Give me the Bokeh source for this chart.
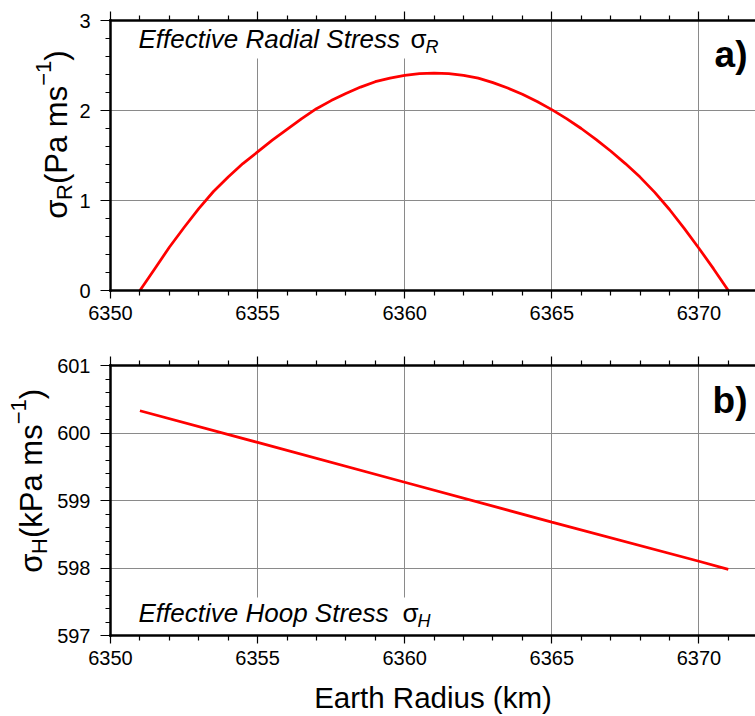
import math
from bokeh.plotting import figure
from bokeh.models import Range1d, LinearAxis, FixedTicker, Label
from bokeh.layouts import column, row
from bokeh.embed import file_html
from bokeh.resources import INLINE

# ---------------- data ----------------
RADIUS_A = [6351.0, 6351.5, 6352.0, 6352.5, 6353.0, 6353.5, 6354.0, 6354.5,
            6355.0, 6355.5, 6356.0, 6356.5, 6357.0, 6357.5, 6358.0, 6358.5,
            6359.0, 6359.5, 6360.0, 6360.5, 6361.0, 6361.5, 6362.0, 6362.5,
            6363.0, 6363.5, 6364.0, 6364.5, 6365.0, 6365.5, 6366.0, 6366.5,
            6367.0, 6367.5, 6368.0, 6368.5, 6369.0, 6369.5, 6370.0, 6370.5,
            6371.0]
SIGMA_R = [0.00, 0.24, 0.48, 0.70, 0.91, 1.10, 1.26, 1.41,
           1.54, 1.67, 1.79, 1.91, 2.02, 2.11, 2.19, 2.26,
           2.32, 2.36, 2.39, 2.41, 2.415, 2.41, 2.39, 2.36,
           2.31, 2.25, 2.18, 2.10, 2.01, 1.91, 1.80, 1.68,
           1.55, 1.41, 1.26, 1.09, 0.90, 0.69, 0.47, 0.24,
           0.00]

RADIUS_B = [6351.0, 6355.0, 6360.0, 6365.0, 6370.0, 6371.0]
SIGMA_H = [600.33, 599.86, 599.27, 598.68, 598.10, 597.98]

X_MAJOR = [6350, 6355, 6360, 6365, 6370]
X_MINOR = [6351, 6352, 6353, 6354, 6356, 6357, 6358, 6359, 6361, 6362, 6363,
           6364, 6366, 6367, 6368, 6369, 6371]
YA_MAJOR = [0, 1, 2, 3]
YA_MINOR = [0.2, 0.4, 0.6, 0.8, 1.2, 1.4, 1.6, 1.8, 2.2, 2.4, 2.6, 2.8]
YB_MAJOR = [597, 598, 599, 600, 601]
YB_MINOR = [597.2, 597.4, 597.6, 597.8, 598.2, 598.4, 598.6, 598.8,
            599.2, 599.4, 599.6, 599.8, 600.2, 600.4, 600.6, 600.8]

# ---------------- layout constants (page pixels) ----------------
PAGE_W = 755
FRAME_L = 110            # page x of frame left
PX_PER_KM = 29.42
X0 = 6350.0
X_END = X0 + (PAGE_W - FRAME_L) / PX_PER_KM
FONT = "Liberation Sans"
RED = "#ff0000"
GRID = "#8a8a8a"
MID = 0.3465            # baseline -> text-box centre, in em

WID = {'(': .333, ')': .333, 'P': .667, 'a': .556, ' ': .278, 'm': .833,
       's': .5, 'k': .5, 'R': .722, 'H': .722, '\u2212': .584, '1': .556,
       '\u03c3': .6}


def tw(t, size):
    return sum(WID.get(c, .556) for c in t) * size


def style_axis(ax, tick_out, minor_out, standoff, label_size="20px"):
    ax.axis_line_width = 2.5
    ax.axis_line_color = "black"
    ax.axis_line_cap = "square"
    ax.major_tick_in = 0
    ax.minor_tick_in = 0
    ax.major_tick_out = tick_out
    ax.minor_tick_out = minor_out
    ax.major_tick_line_color = "black"
    ax.minor_tick_line_color = "black"
    ax.major_tick_line_width = 1.2
    ax.minor_tick_line_width = 1.2
    ax.major_label_text_font = FONT
    ax.major_label_text_font_size = label_size
    ax.major_label_text_color = "black"
    ax.major_label_standoff = standoff


def make_panel(strip_w, height, top_b, bottom_b, y0, y1, ymaj, ymin):
    p = figure(width=PAGE_W - strip_w, height=height,
               x_range=Range1d(X0, X_END), y_range=Range1d(y0, y1),
               output_backend="svg", toolbar_location=None,
               min_border_left=FRAME_L - strip_w, min_border_right=0,
               min_border_top=top_b, min_border_bottom=bottom_b)
    p.outline_line_color = None
    p.background_fill_color = "white"
    p.border_fill_color = "white"
    xt = FixedTicker(ticks=X_MAJOR, minor_ticks=X_MINOR)
    yt = FixedTicker(ticks=ymaj, minor_ticks=ymin)
    p.below[0].ticker = xt
    p.left[0].ticker = yt
    p.xgrid.ticker = xt
    p.ygrid.ticker = yt
    for g in (p.xgrid, p.ygrid):
        g.grid_line_color = GRID
        g.grid_line_width = 1
    style_axis(p.below[0], 8, 5, 7)
    style_axis(p.left[0], 10, 5, 10)
    top = LinearAxis(ticker=xt)
    style_axis(top, 9, 5, 0, "1px")
    top.major_label_overrides = {t: "" for t in X_MAJOR}
    p.add_layout(top, "above")
    return p


def make_strip(width, height, frame_top, frame_bot):
    # frame of the strip is aligned with the panel frame by the row layout;
    # data y = -page_y inside that frame
    s = figure(width=width, height=height, title=None,
               x_range=Range1d(0, width),
               y_range=Range1d(-frame_bot, -frame_top),
               output_backend="svg", toolbar_location=None,
               x_axis_location=None, y_axis_location=None,
               min_border_left=0, min_border_right=0,
               min_border_top=0, min_border_bottom=0)
    s.outline_line_color = None
    s.background_fill_color = "white"
    s.border_fill_color = "white"
    s.xgrid.visible = False
    s.ygrid.visible = False
    return s


# row a: page y 0..330, frame 20..290 ; row b: page y 330..716, frame 365..635
SA_W, SB_W = 76, 52
H_A, H_B = 330, 386
pa = make_panel(SA_W, H_A, 20, 40, 0, 3, YA_MAJOR, YA_MINOR)
pb = make_panel(SB_W, H_B, 35, 81, 597, 601, YB_MAJOR, YB_MINOR)
sa = make_strip(SA_W, H_A, 20, 290)
sb = make_strip(SB_W, H_B, 365, 635)


def tx(px):
    return X0 + (px - FRAME_L) / PX_PER_KM


def ty_a(py):
    return (290 - py) / 90.0


def ty_b(py):
    return 601 - (py - 365) / 67.5


# white boxes behind inner titles
pa.quad(left=[tx(132)], right=[tx(456)], bottom=[ty_a(58)], top=[3],
        fill_color="white", line_color=None)
pb.quad(left=[tx(132)], right=[tx(456)], bottom=[597], top=[ty_b(597)],
        fill_color="white", line_color=None)

pa.line(RADIUS_A, SIGMA_R, line_color=RED, line_width=2.75)
pb.line(RADIUS_B, SIGMA_H, line_color=RED, line_width=2.75)


def lab(p, x, y, text, size, style="normal", align="left", angle=0.0):
    p.add_layout(Label(x=x, y=y, text=text, text_font=FONT,
                       text_font_size=f"{size}px", text_font_style=style,
                       text_color="black", text_align=align,
                       text_baseline="middle", angle=angle))


def hlab(p, tyf, px, base_py, text, size, style="normal", align="left"):
    lab(p, tx(px), tyf(base_py - MID * size), text, size, style, align)


# inner titles (positions given by their baselines)
hlab(pa, ty_a, 138, 48, "Effective Radial Stress", 26, "italic")
hlab(pa, ty_a, 410, 48, "\u03c3", 26)
hlab(pa, ty_a, 425, 53, "R", 18, "italic")
hlab(pb, ty_b, 138, 622, "Effective Hoop Stress", 26, "italic")
hlab(pb, ty_b, 402, 622, "\u03c3", 26)
hlab(pb, ty_b, 417, 627, "H", 18, "italic")

# panel letters
hlab(pa, ty_a, 747, 67, "a)", 37, "bold", "right")
hlab(pb, ty_b, 747, 413, "b)", 37, "bold", "right")


# rotated y-axis labels, drawn in narrow strips left of each panel
def vlabel(s, base_px, start_py, pieces):
    y = start_py
    for text, size, shift in pieces:
        w = tw(text, size)
        cx = base_px + shift - MID * size
        cy = y - w / 2
        lab(s, cx, -cy, text, size, align="center", angle=math.pi / 2)
        y -= w


F, S = 31, 22
vlabel(sa, 67, 218, [("\u03c3", F, 0), ("R", S, 5), ("(Pa ms", F, 0),
                     ("\u22121", S, -16), (")", F, 0)])
vlabel(sb, 42, 572, [("\u03c3", F, 0), ("H", S, 5), ("(kPa ms", F, 0),
                     ("\u22121", S, -16), (")", F, 0)])

# x-axis label
xb = pb.below[0]
xb.axis_label = "Earth Radius (km)"
xb.axis_label_text_font = FONT
xb.axis_label_text_font_size = "29.5px"
xb.axis_label_text_font_style = "normal"
xb.axis_label_text_color = "black"
xb.axis_label_standoff = 13

layout = column(row(sa, pa), row(sb, pb))
open("out.html", "w").write(file_html(layout, INLINE))
